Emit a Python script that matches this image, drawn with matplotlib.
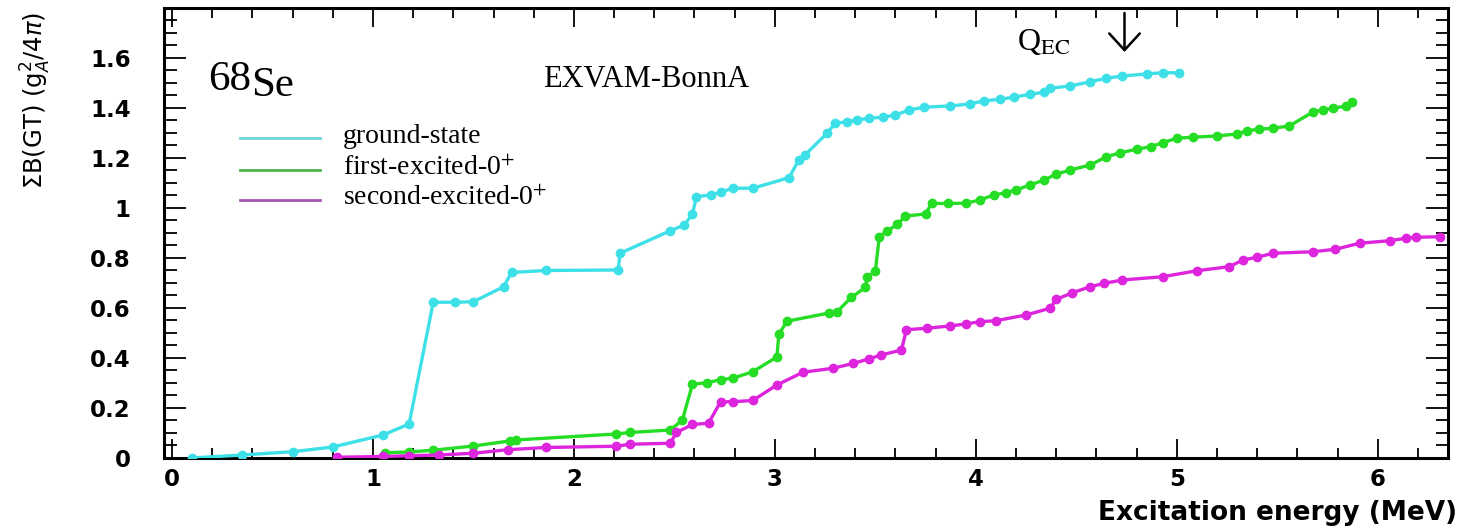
import numpy as np
import matplotlib
matplotlib.use("Agg")
import matplotlib.pyplot as plt
from matplotlib.ticker import MultipleLocator, FuncFormatter

# ---------------- data ----------------
gs_x = [0.10, 0.35, 0.60, 0.80, 1.05, 1.18, 1.30, 1.41, 1.50, 1.65,
        1.69, 1.86, 2.22, 2.23, 2.48, 2.55, 2.59, 2.61, 2.68, 2.73,
        2.79, 2.89, 3.07, 3.12, 3.15, 3.26, 3.30, 3.36, 3.41, 3.47,
        3.54, 3.60, 3.67, 3.74, 3.87, 3.97, 4.04, 4.12, 4.19, 4.27,
        4.34, 4.37, 4.47, 4.57, 4.65, 4.73, 4.85, 4.93, 5.01]
gs_y = [0.00, 0.012, 0.025, 0.044, 0.092, 0.136, 0.623, 0.623, 0.625, 0.685,
        0.742, 0.750, 0.752, 0.819, 0.909, 0.932, 0.976, 1.045, 1.052, 1.063,
        1.079, 1.079, 1.121, 1.192, 1.212, 1.299, 1.339, 1.345, 1.352, 1.359,
        1.363, 1.372, 1.392, 1.403, 1.408, 1.416, 1.428, 1.435, 1.443, 1.455,
        1.463, 1.479, 1.488, 1.505, 1.519, 1.528, 1.536, 1.541, 1.541]

fe_x = [1.06, 1.18, 1.30, 1.50, 1.68, 1.71, 2.21, 2.28, 2.48, 2.54,
        2.59, 2.66, 2.73, 2.79, 2.89, 3.01, 3.02, 3.06, 3.27, 3.31,
        3.38, 3.45, 3.46, 3.50, 3.52, 3.56, 3.61, 3.65, 3.75, 3.78,
        3.86, 3.95, 4.02, 4.09, 4.15, 4.20, 4.27, 4.34, 4.40, 4.47,
        4.57, 4.65, 4.72, 4.80, 4.87, 4.93, 5.00, 5.08, 5.20, 5.30,
        5.35, 5.41, 5.48, 5.56, 5.68, 5.73, 5.78, 5.84, 5.87]
fe_y = [0.021, 0.024, 0.031, 0.048, 0.068, 0.072, 0.096, 0.102, 0.112, 0.152,
        0.295, 0.301, 0.313, 0.319, 0.345, 0.404, 0.495, 0.547, 0.580, 0.585,
        0.642, 0.682, 0.722, 0.748, 0.885, 0.908, 0.935, 0.968, 0.976, 1.018,
        1.018, 1.019, 1.032, 1.052, 1.061, 1.072, 1.092, 1.112, 1.135, 1.152,
        1.172, 1.205, 1.221, 1.235, 1.245, 1.261, 1.279, 1.283, 1.288, 1.296,
        1.309, 1.315, 1.319, 1.328, 1.385, 1.392, 1.399, 1.408, 1.425]

se_x = [0.82, 1.05, 1.18, 1.33, 1.50, 1.67, 1.86, 2.21, 2.28, 2.48,
        2.51, 2.59, 2.67, 2.73, 2.79, 2.89, 3.01, 3.14, 3.29, 3.39,
        3.47, 3.53, 3.63, 3.655, 3.755, 3.87, 3.95, 4.02, 4.10, 4.25,
        4.37, 4.40, 4.48, 4.57, 4.64, 4.73, 4.93, 5.10, 5.26, 5.33,
        5.40, 5.48, 5.68, 5.79, 5.91, 6.06, 6.14, 6.19, 6.31]
se_y = [0.003, 0.006, 0.009, 0.012, 0.019, 0.033, 0.042, 0.047, 0.055, 0.059,
        0.102, 0.134, 0.139, 0.225, 0.225, 0.230, 0.292, 0.343, 0.359, 0.378,
        0.397, 0.412, 0.432, 0.513, 0.519, 0.528, 0.536, 0.545, 0.549, 0.572,
        0.599, 0.634, 0.661, 0.685, 0.699, 0.712, 0.725, 0.749, 0.765, 0.792,
        0.803, 0.819, 0.825, 0.835, 0.859, 0.869, 0.879, 0.883, 0.885]

series_labels = ["ground-state", "first-excited-0$^{+}$", "second-excited-0$^{+}$"]
q_ec = 4.74
x_ticks = [0, 1, 2, 3, 4, 5, 6]
y_ticks = [0, 0.2, 0.4, 0.6, 0.8, 1.0, 1.2, 1.4, 1.6]

# ---------------- style ----------------
c_gs = "#3EE0E8"
c_fe = "#25DD25"
c_se = "#DD25DD"
leg_cols = ["#6CD4DA", "#4CB44C", "#A555B0"]
serif = "Liberation Serif"

fig = plt.figure(figsize=(14.6, 5.28), dpi=100)
ax = fig.add_axes([0.1123, 0.1326, 0.8795, 0.8523])

for xs, ys, c in [(gs_x, gs_y, c_gs), (fe_x, fe_y, c_fe), (se_x, se_y, c_se)]:
    ax.plot(xs, ys, color=c, lw=2.4, marker="o", ms=6, mec=c, mfc=c, zorder=3)

ax.set_xlim(-0.04, 6.35)
ax.set_ylim(0, 1.8)
ax.set_xticks(x_ticks)
ax.set_yticks(y_ticks)
ax.xaxis.set_minor_locator(MultipleLocator(0.2))
ax.yaxis.set_minor_locator(MultipleLocator(0.05))
fmt = FuncFormatter(lambda v, p: f"{v:g}")
ax.xaxis.set_major_formatter(fmt)
ax.yaxis.set_major_formatter(fmt)

for s in ax.spines.values():
    s.set_linewidth(2.2)

ax.tick_params(axis="both", which="both", direction="in", top=True, right=True,
               width=1.3, color="black")
ax.tick_params(axis="x", which="major", length=14, pad=7)
ax.tick_params(axis="x", which="minor", length=7)
ax.tick_params(axis="y", which="major", length=16, pad=24)
ax.tick_params(axis="y", which="minor", length=9)
for lab in ax.get_xticklabels() + ax.get_yticklabels():
    lab.set_fontfamily("DejaVu Sans")
    lab.set_fontweight("bold")
    lab.set_fontsize(16.5)

# axis titles
fig.text(36 / 1460, 1 - 12 / 528, r"$\Sigma$B(GT) (g$_{A}^{2}$/4$\pi$)",
         rotation=90, ha="center", va="top", fontsize=17.5,
         family="DejaVu Sans", math_fontfamily="dejavusans")
fig.text(1457 / 1460, 1 - 520 / 528, "Excitation energy (MeV)",
         ha="right", va="baseline", fontsize=19, fontweight="bold",
         family="DejaVu Sans")

# annotations
t68 = ax.text(0.0343, 0.8178, "68", transform=ax.transAxes, fontsize=31,
              family=serif, ha="left", va="baseline")
ax.annotate("Se", xy=(1, 0), xycoords=t68, xytext=(0, -4),
            textcoords="offset points", ha="left", va="bottom",
            fontsize=31, family=serif)
ax.text(0.2952, 0.8244, "EXVAM-BonnA", transform=ax.transAxes, fontsize=22,
        family=serif, ha="left", va="baseline")

ax.text(0.6640, 0.9067, r"Q$_{\mathrm{EC}}$", transform=ax.transAxes,
        fontsize=23, family=serif, math_fontfamily="stix",
        ha="left", va="baseline")
ax.annotate("", xy=(q_ec, 1.624), xytext=(q_ec, 1.78),
            arrowprops=dict(arrowstyle="->,head_length=0.6,head_width=0.55",
                            lw=1.8, color="black", mutation_scale=20,
                            shrinkA=0, shrinkB=0))

# legend (drawn manually, ROOT-style)
leg_line_y = [0.7111, 0.6400, 0.5733]
leg_text_y = [0.7000, 0.6290, 0.5620]
for lab, col, ly, ty in zip(series_labels, leg_cols, leg_line_y, leg_text_y):
    ax.plot([0.0592, 0.1215], [ly, ly], color=col, lw=2.0,
            transform=ax.transAxes, clip_on=False)
    ax.text(0.1394, ty, lab, transform=ax.transAxes, fontsize=20,
            family=serif, math_fontfamily="stix", ha="left", va="baseline")

fig.savefig("out.png", dpi=100)
